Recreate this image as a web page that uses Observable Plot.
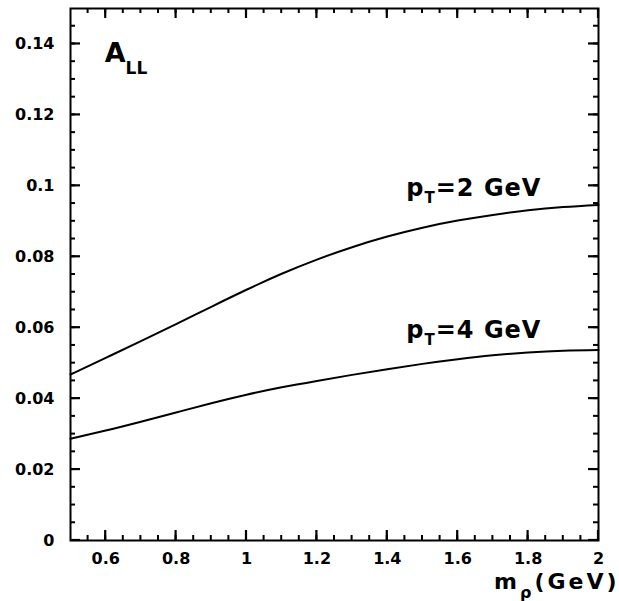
<!DOCTYPE html>
<html><head><meta charset="utf-8">
<script src="https://cdn.jsdelivr.net/npm/d3@7"></script>
<script src="https://cdn.jsdelivr.net/npm/@observablehq/plot@0.6"></script>
<style>body{margin:0;background:#fff}</style>
</head><body><div id="chart"></div>
<script>
// m_rho (GeV)
const mass = [0.5,0.6,0.7,0.8,0.9,1.0,1.1,1.2,1.3,1.4,1.5,1.6,1.7,1.8,1.9,2.0];
// A_LL for pT = 2 GeV
const allPt2 = [0.0468,0.0515,0.0562,0.0610,0.0659,0.0707,0.0752,0.0792,0.0827,0.0857,0.0882,0.0902,0.0918,0.0931,0.0940,0.0946];
// A_LL for pT = 4 GeV
const allPt4 = [0.0287,0.0310,0.0335,0.0361,0.0387,0.0411,0.0432,0.0450,0.0467,0.0483,0.0498,0.0511,0.0522,0.0530,0.0535,0.0537];

const xTicks = [0.6,0.8,1,1.2,1.4,1.6,1.8,2];
const xTickLabels = ["0.6","0.8","1","1.2","1.4","1.6","1.8","2"];
const yTicks = [0,0.02,0.04,0.06,0.08,0.1,0.12,0.14];
const yTickLabels = ["0","0.02","0.04","0.06","0.08","0.1","0.12","0.14"];
const xMinor = d3.range(0.55, 2.0, 0.05);
const yMinor = d3.range(0.005, 0.15, 0.005);

const curveLabels = [
  {x: 1.454, y: 0.0972, text: "p_{T}=2 GeV"},
  {x: 1.454, y: 0.0572, text: "p_{T}=4 GeV"}
];
const titleLabel = [{x: 0.597, y: 0.1349, text: "A_{LL}"}];
const axisLabel = [{x: 2, y: 0, text: "m_{ρ}(GeV)"}];

const rows = [];
mass.forEach((m, i) => rows.push({m, a: allPt2[i], pt: "2"}));
mass.forEach((m, i) => rows.push({m, a: allPt4[i], pt: "4"}));

const W = 619, H = 601, ML = 70, MR = 21, MT = 8, MB = 61;
const X0 = 0.5, X1 = 2, Y0 = 0, Y1 = 0.15;
const xPerPx = (X1 - X0) / (W - ML - MR), yPerPx = (Y1 - Y0) / (H - MT - MB);

const FONT = "DejaVu Sans, Liberation Sans, sans-serif";
const txt = {fontFamily: FONT, fontWeight: "bold", fill: "#000"};

// inward ticks on all four sides as small filled bars (length/width in pixels via scale ratio)
const tickMarks = [];
for (const [ticks, len, w] of [[xMinor, 5, 2], [xTicks, 10, 2.2]]) {
  const hw = w / 2 * xPerPx;
  tickMarks.push(Plot.rect(ticks, {x1: d => d - hw, x2: d => d + hw, y1: Y0, y2: Y0 + len * yPerPx, fill: "#000"}));
  tickMarks.push(Plot.rect(ticks, {x1: d => d - hw, x2: d => d + hw, y1: Y1 - len * yPerPx, y2: Y1, fill: "#000"}));
}
for (const [ticks, len, w] of [[yMinor, 5, 2], [yTicks, 10, 2.2]]) {
  const hh = w / 2 * yPerPx;
  tickMarks.push(Plot.rect(ticks, {y1: d => d - hh, y2: d => d + hh, x1: X0, x2: X0 + len * xPerPx, fill: "#000"}));
  tickMarks.push(Plot.rect(ticks, {y1: d => d - hh, y2: d => d + hh, x1: X1 - len * xPerPx, x2: X1, fill: "#000"}));
}

const plot = Plot.plot({
  width: W, height: H,
  marginLeft: ML, marginRight: MR, marginTop: MT, marginBottom: MB,
  x: {domain: [X0, X1]},
  y: {domain: [Y0, Y1]},
  marks: [
    Plot.line(rows, {x: "m", y: "a", z: "pt", stroke: "#000", strokeWidth: 2, curve: "natural"}),
    ...tickMarks,
    Plot.axisX({anchor: "bottom", ticks: xTicks, tickSize: 0, tickPadding: 12, tickFormat: (d, i) => xTickLabels[i], label: null, fontSize: 16, letterSpacing: 1, ...txt}),
    Plot.axisY({anchor: "left", ticks: yTicks, tickSize: 0, tickPadding: 16, tickFormat: (d, i) => yTickLabels[i], label: null, fontSize: 16, letterSpacing: 1, ...txt}),
    Plot.frame({stroke: "#000", strokeWidth: 2}),
    Plot.text(curveLabels, {x: "x", y: "y", text: "text", textAnchor: "start", lineAnchor: "bottom", fontSize: 24, ...txt}),
    Plot.text(titleLabel, {x: "x", y: "y", text: "text", textAnchor: "start", lineAnchor: "bottom", fontSize: 27, ...txt}),
    Plot.text(axisLabel, {x: "x", y: "y", text: "text", textAnchor: "end", lineAnchor: "bottom", dx: 21, dy: 48, fontSize: 22, ...txt})
  ]
});

const subSpec = {
  "A_{LL}": {size: 17, shift: 12, ls: 0},
  "p_{T}=2 GeV": {size: 15, shift: 7, ls: 1},
  "p_{T}=4 GeV": {size: 15, shift: 7, ls: 1},
  "m_{ρ}(GeV)": {size: 16, shift: 9, ls: 3}
};
d3.select(plot).selectAll("text").each(function() {
  const t = this.textContent;
  const spec = subSpec[t];
  if (!spec) return;
  const m = t.match(/^(.*?)_\{(.*?)\}(.*)$/);
  if (!m) return;
  const el = d3.select(this).attr("letter-spacing", spec.ls);
  el.text(null);
  el.append("tspan").text(m[1]);
  el.append("tspan").attr("dy", spec.shift).attr("font-size", spec.size).text(m[2]);
  if (m[3]) el.append("tspan").attr("dy", -spec.shift).text(m[3]);
});

document.getElementById("chart").appendChild(plot);
</script>
</body></html>
